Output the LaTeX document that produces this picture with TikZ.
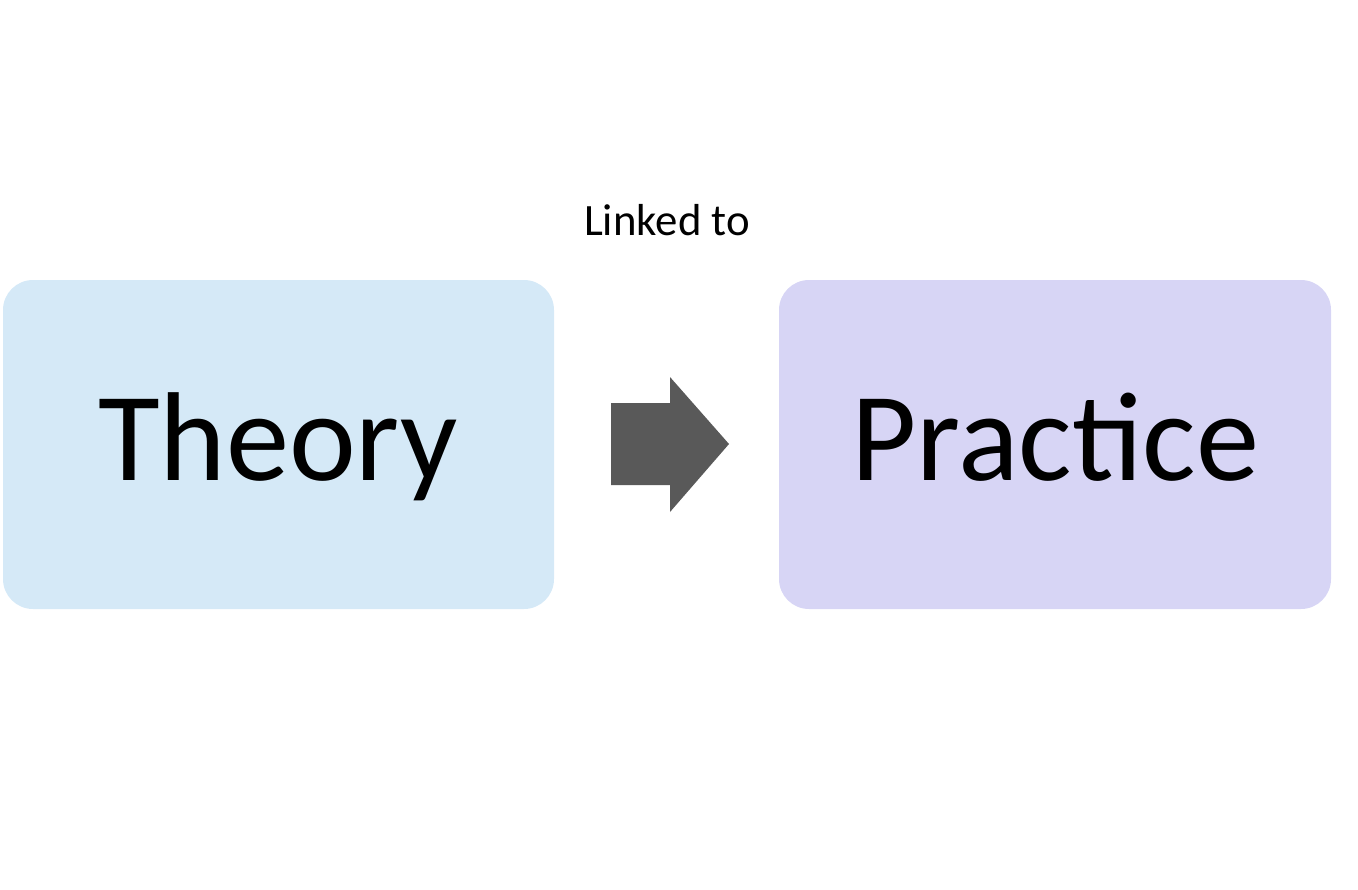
\documentclass[tikz,border=0pt]{standalone}
\usepackage{fontspec}
\setmainfont{Carlito}
\begin{document}
\begin{tikzpicture}[x=0.02cm,y=-0.02cm,
  box/.style={rounded corners=0.6cm},
  big/.style={font=\fontsize{72}{80}\selectfont,inner sep=0pt}]
\useasboundingbox (0,0) rectangle (1358,889);
\definecolor{lb}{HTML}{D5E9F7}
\definecolor{lv}{HTML}{D7D5F5}
\definecolor{ag}{HTML}{595959}
\fill[lb,box] (3,280) rectangle (554,609);
\fill[lv,box] (779,280) rectangle (1331,609);
\node[big,anchor=base] (theory) at (278,480) {Theory};
\node[big,anchor=base] (practice) at (1055,480) {Practice};
\fill[ag] (611,403) -- (670,403) -- (670,377) -- (729,444) -- (670,512) -- (670,485) -- (611,485) -- cycle;
\node[font=\fontsize{25.5}{30}\selectfont,anchor=base,inner sep=0pt] (lab) at (667,235) {Linked to};
\end{tikzpicture}
\end{document}
